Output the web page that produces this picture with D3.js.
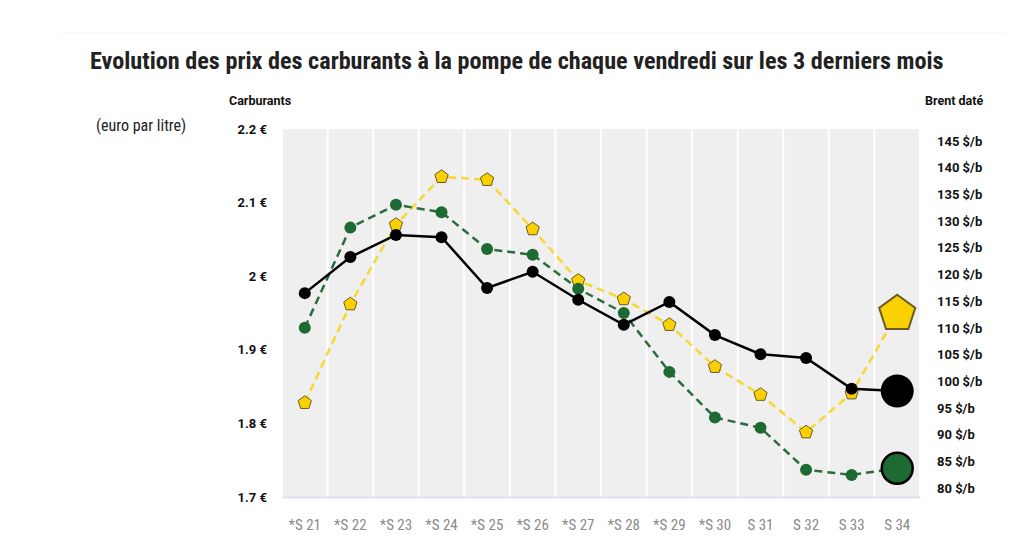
<!DOCTYPE html>
<html>
<head>
<meta charset="utf-8">
<script src="https://cdn.jsdelivr.net/npm/d3@7"></script>
<style>
  body { margin: 0; background: #fff; }
  text { font-family: "Liberation Sans Narrow", "Roboto Condensed", Roboto, sans-serif; }
</style>
</head>
<body>
<div id="chart"></div>
<script>
var weeks = ["*S 21", "*S 22", "*S 23", "*S 24", "*S 25", "*S 26", "*S 27",
    "*S 28", "*S 29", "*S 30", "S 31", "S 32", "S 33", "S 34"];

// gazole (black, solid)
var blackValues = [1.977, 2.026, 2.056, 2.053, 1.984, 2.006, 1.968,
    1.934, 1.965, 1.920, 1.894, 1.889, 1.847, 1.844];
// green dashed
var greenValues = [1.930, 2.066, 2.097, 2.087, 2.037, 2.029, 1.983,
    1.950, 1.870, 1.808, 1.794, 1.737, 1.730, 1.739];
// yellow dashed, pentagons
var yellowValues = [1.828, 1.962, 2.070, 2.135, 2.131, 2.064, 1.994,
    1.969, 1.934, 1.877, 1.839, 1.788, 1.841, 1.949];

var leftTicks = [1.7, 1.8, 1.9, 2, 2.1, 2.2];
var rightTicks = [80, 85, 90, 95, 100, 105, 110, 115, 120, 125, 130, 135, 140, 145];

var width = 1024, height = 546;
var boldFont = "Roboto, \"Liberation Sans\", sans-serif";
var narrowFont = "\"Liberation Sans Narrow\", \"Roboto Condensed\", Roboto, sans-serif";

var svg = d3.select("#chart")
    .append("svg")
    .attr("width", width)
    .attr("height", height);

// faint top rule
svg.append("line")
    .attr("x1", 62).attr("x2", 1005)
    .attr("y1", 33).attr("y2", 33)
    .attr("stroke", "#f2f2f2")
    .attr("stroke-width", 1);

svg.append("text")
    .attr("x", 90)
    .attr("y", 69)
    .attr("font-size", 24.2)
    .attr("font-weight", "bold")
    .attr("fill", "#222")
    .text("Evolution des prix des carburants à la pompe de chaque vendredi sur les 3 derniers mois");

svg.append("text")
    .attr("x", 229).attr("y", 105)
    .attr("font-size", 12.5)
    .attr("font-weight", "bold")
    .attr("fill", "#111")
    .style("font-family", boldFont)
    .text("Carburants");

svg.append("text")
    .attr("x", 96).attr("y", 131)
    .attr("font-size", 16)
    .attr("fill", "#222")
    .text("(euro par litre)");

svg.append("clipPath")
    .attr("id", "edge")
    .append("rect")
    .attr("x", 0).attr("y", 0)
    .attr("width", 987).attr("height", height);

svg.append("text")
    .attr("clip-path", "url(#edge)")
    .attr("x", 925).attr("y", 105)
    .attr("font-size", 12.5)
    .attr("font-weight", "bold")
    .attr("fill", "#111")
    .style("font-family", boldFont)
    .text("Brent daté");

// scales
var x = d3.scaleBand()
    .domain(weeks)
    .range([282, 920]);

var y = d3.scaleLinear()
    .domain([1.7, 2.2])
    .range([497, 129]);

var yRight = d3.scaleLinear()
    .domain([80, 145])
    .range([488, 141]);

// column bands
svg.append("g")
    .selectAll("rect")
    .data(weeks)
    .enter()
    .append("rect")
    .attr("x", function (d) { return x(d) + 1; })
    .attr("y", y(2.2))
    .attr("width", x.bandwidth() - 2)
    .attr("height", y(1.7) - y(2.2))
    .attr("fill", "#efefef");

// bottom axis
var xAxis = svg.append("g")
    .attr("transform", "translate(0," + y(1.7) + ")")
    .call(d3.axisBottom(x).tickSize(0).tickPadding(22));
xAxis.select(".domain")
    .attr("stroke", "#dde1ea")
    .attr("stroke-width", 2);
xAxis.selectAll("text")
    .attr("font-size", 15)
    .attr("fill", "#8a8a8a")
    .style("font-family", narrowFont);

// left axis
var yAxis = svg.append("g")
    .attr("transform", "translate(267,0)")
    .call(d3.axisLeft(y).tickValues(leftTicks).tickSize(0).tickPadding(0)
        .tickFormat(function (d) { return d3.format(".1~f")(d) + " €"; }));
yAxis.select(".domain").remove();
yAxis.selectAll("text")
    .attr("font-size", 13)
    .attr("font-weight", "bold")
    .attr("fill", "#111")
    .style("font-family", boldFont);

// right axis
var yAxisR = svg.append("g")
    .attr("transform", "translate(937,0)")
    .call(d3.axisRight(yRight).tickValues(rightTicks).tickSize(0).tickPadding(0)
        .tickFormat(function (d) { return d + " $/b"; }));
yAxisR.select(".domain").remove();
yAxisR.selectAll("text")
    .attr("font-size", 13)
    .attr("font-weight", "bold")
    .attr("fill", "#111")
    .style("font-family", boldFont);

var cx = function (d, i) { return x(weeks[i]) + x.bandwidth() / 2; };

var line = d3.line()
    .x(cx)
    .y(function (d) { return y(d); });

function pentaPath(r) {
    var pts = d3.range(5).map(function (k) {
        var a = -Math.PI / 2 + k * 2 * Math.PI / 5;
        return [r * Math.cos(a), r * Math.sin(a)];
    });
    return "M" + pts.join("L") + "Z";
}

var last = weeks.length - 1;

// yellow series
svg.append("path")
    .datum(yellowValues)
    .attr("fill", "none")
    .attr("stroke", "#f7d731")
    .attr("stroke-width", 2.5)
    .attr("stroke-dasharray", "8,5")
    .attr("d", line);

// green series
svg.append("path")
    .datum(greenValues)
    .attr("fill", "none")
    .attr("stroke", "#2b6b3c")
    .attr("stroke-width", 2.5)
    .attr("stroke-dasharray", "8,5")
    .attr("d", line);

// black series
svg.append("path")
    .datum(blackValues)
    .attr("fill", "none")
    .attr("stroke", "#000")
    .attr("stroke-width", 2.5)
    .attr("d", line);

// markers
svg.append("g")
    .selectAll("path")
    .data(yellowValues)
    .enter()
    .append("path")
    .attr("transform", function (d, i) { return "translate(" + cx(d, i) + "," + y(d) + ")"; })
    .attr("d", function (d, i) { return pentaPath(i === last ? 19 : 7); })
    .attr("fill", "#fad000")
    .attr("stroke", "#6b5b22")
    .attr("stroke-width", function (d, i) { return i === last ? 2 : 1; });

svg.append("g")
    .selectAll("circle")
    .data(greenValues)
    .enter()
    .append("circle")
    .attr("cx", cx)
    .attr("cy", function (d) { return y(d); })
    .attr("r", function (d, i) { return i === last ? 15.5 : 6; })
    .attr("fill", "#1d6b33")
    .attr("stroke", function (d, i) { return i === last ? "#000" : "none"; })
    .attr("stroke-width", 2.5);

svg.append("g")
    .selectAll("circle")
    .data(blackValues)
    .enter()
    .append("circle")
    .attr("cx", cx)
    .attr("cy", function (d) { return y(d); })
    .attr("r", function (d, i) { return i === last ? 16.5 : 6; })
    .attr("fill", "#000");
</script>
</body>
</html>
